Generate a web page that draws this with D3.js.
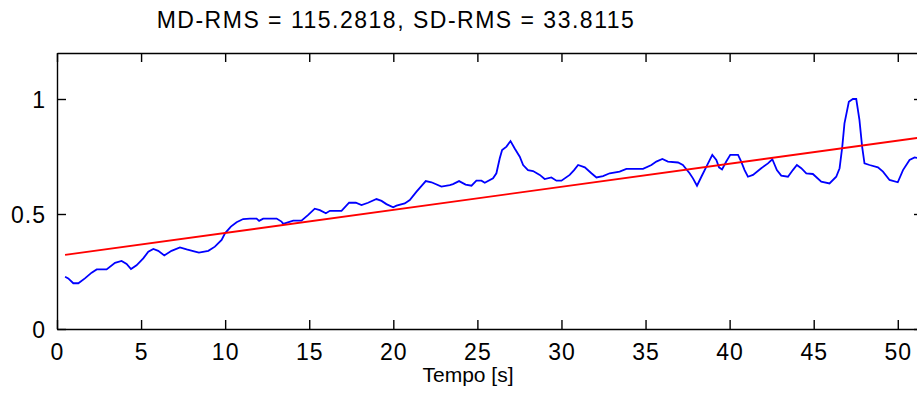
<!DOCTYPE html>
<html>
<head>
<meta charset="utf-8">
<script src="https://cdn.jsdelivr.net/npm/d3@7"></script>
<style>
  html, body { margin: 0; padding: 0; background: #fff; overflow: hidden; }
  svg { display: block; }
  text { font-family: "Liberation Sans", Arial, sans-serif; fill: #000; }
</style>
</head>
<body>
<svg id="chart" width="917" height="401"></svg>
<script>
// ---- data ----
const titleText = "MD-RMS = 115.2818, SD-RMS = 33.8115";
const xLabelText = "Tempo [s]";
const xTicks = [0, 5, 10, 15, 20, 25, 30, 35, 40, 45, 50];
const yTicks = [0, 0.5, 1];
const yTickLabels = ["0", "0.5", "1"];

const signalTime = [0.48,0.67,0.97,1.27,1.66,2.06,2.36,2.95,3.45,3.84,4.14,4.40,4.73,5.13,5.43,5.73,6.02,6.38,6.81,7.31,7.71,8.10,8.44,9.00,9.39,9.79,9.99,10.34,10.68,11.07,11.47,11.87,12.02,12.26,13.06,13.35,13.45,14.05,14.54,14.94,15.33,15.63,15.99,16.23,16.92,17.37,17.77,18.11,18.50,19.00,19.30,19.59,19.99,20.19,20.68,20.98,21.38,21.68,21.93,22.27,22.86,23.36,23.55,23.91,24.30,24.65,24.94,25.24,25.44,25.93,26.13,26.33,26.47,26.73,26.97,27.22,27.52,27.72,28.01,28.31,28.71,29.00,29.40,29.70,30.00,30.49,30.75,30.99,31.39,31.78,32.08,32.47,32.87,33.46,33.86,34.85,35.35,35.64,36.00,36.33,36.93,37.22,37.62,37.82,38.06,38.32,38.62,38.97,39.21,39.37,39.55,39.80,40.04,40.50,40.69,40.89,41.09,41.39,41.88,42.28,42.54,42.81,43.07,43.47,43.76,44.00,44.26,44.56,44.95,45.45,45.94,46.34,46.54,46.70,46.83,47.09,47.33,47.53,47.72,47.88,48.02,48.32,48.82,49.12,49.51,50.00,50.31,50.70,51.00,51.50];
const signalValue = [0.227,0.220,0.199,0.199,0.220,0.245,0.259,0.259,0.288,0.296,0.283,0.261,0.277,0.307,0.336,0.348,0.340,0.320,0.340,0.355,0.346,0.339,0.332,0.340,0.358,0.387,0.416,0.445,0.464,0.478,0.480,0.480,0.470,0.480,0.480,0.467,0.457,0.471,0.471,0.496,0.523,0.517,0.503,0.514,0.514,0.549,0.549,0.539,0.549,0.565,0.557,0.543,0.529,0.536,0.546,0.561,0.597,0.622,0.643,0.638,0.619,0.626,0.630,0.643,0.628,0.623,0.645,0.645,0.636,0.655,0.677,0.742,0.778,0.793,0.817,0.785,0.749,0.713,0.691,0.687,0.670,0.652,0.659,0.645,0.645,0.670,0.691,0.713,0.703,0.677,0.659,0.665,0.677,0.684,0.696,0.696,0.713,0.728,0.739,0.728,0.724,0.713,0.677,0.655,0.623,0.662,0.706,0.757,0.735,0.703,0.694,0.728,0.757,0.757,0.728,0.691,0.662,0.670,0.699,0.720,0.738,0.691,0.667,0.662,0.691,0.713,0.699,0.677,0.674,0.641,0.633,0.662,0.699,0.793,0.894,0.988,1.000,1.000,0.909,0.793,0.720,0.713,0.703,0.684,0.648,0.638,0.691,0.735,0.746,0.740];

const trendTime = [0.48, 51.5];
const trendValue = [0.322, 0.834];

// ---- layout ----
const svg = d3.select("#chart");
const mLeft = 57, mRight = 923, mTop = 53, mBottom = 329;
const x = d3.scaleLinear().domain([0, 51.5]).range([mLeft, mRight]);
const y = d3.scaleLinear().domain([0, 1.2]).range([mBottom, mTop]);

svg.append("defs").append("clipPath").attr("id", "plotclip")
  .append("rect").attr("x", mLeft).attr("y", mTop).attr("width", mRight - mLeft).attr("height", mBottom - mTop);

const tickLen = 9;
const axisColor = "#000";

const gBottom = svg.append("g").attr("transform", `translate(0,${mBottom})`)
  .call(d3.axisBottom(x).tickValues(xTicks).tickSizeInner(-tickLen).tickSizeOuter(0).tickFormat(d3.format("d")));
const gTop = svg.append("g").attr("transform", `translate(0,${mTop})`)
  .call(d3.axisTop(x).tickValues(xTicks).tickSizeInner(-tickLen).tickSizeOuter(0).tickFormat(""));
const gLeft = svg.append("g").attr("transform", `translate(${mLeft},0)`)
  .call(d3.axisLeft(y).tickValues(yTicks).tickSizeInner(-tickLen).tickSizeOuter(0).tickFormat((d, i) => yTickLabels[i]));
const gRight = svg.append("g").attr("transform", `translate(${mRight},0)`)
  .call(d3.axisRight(y).tickValues(yTicks).tickSizeInner(-tickLen).tickSizeOuter(0).tickFormat(""));

[gBottom, gTop, gLeft, gRight].forEach(g => {
  g.select(".domain").attr("stroke", axisColor).attr("stroke-width", 1.4);
  g.selectAll(".tick line").attr("stroke", axisColor).attr("stroke-width", 1.4);
  g.selectAll(".tick text").attr("font-family", "Liberation Sans, Arial, sans-serif")
    .attr("font-size", 23).attr("fill", "#000").style("letter-spacing", "1px");
});
gBottom.selectAll(".tick text").attr("y", 31).attr("dy", 0);
gLeft.selectAll(".tick text").attr("x", -11).attr("dy", "0.36em");

const lineGen = d3.line().x(d => x(d[0])).y(d => y(d[1]));
const plot = svg.append("g").attr("clip-path", "url(#plotclip)");
plot.append("path")
  .datum(signalTime.map((t, i) => [t, signalValue[i]]))
  .attr("d", lineGen).attr("fill", "none").attr("stroke", "#0000ff").attr("stroke-width", 1.8);
plot.append("path")
  .datum(trendTime.map((t, i) => [t, trendValue[i]]))
  .attr("d", lineGen).attr("fill", "none").attr("stroke", "#ff0000").attr("stroke-width", 1.8);

svg.append("text").attr("x", 396).attr("y", 28).attr("text-anchor", "middle")
  .attr("font-size", 23).style("letter-spacing", "1.5px").text(titleText);
svg.append("text").attr("x", 468).attr("y", 382).attr("text-anchor", "middle")
  .attr("font-size", 21).text(xLabelText);
</script>
</body>
</html>
